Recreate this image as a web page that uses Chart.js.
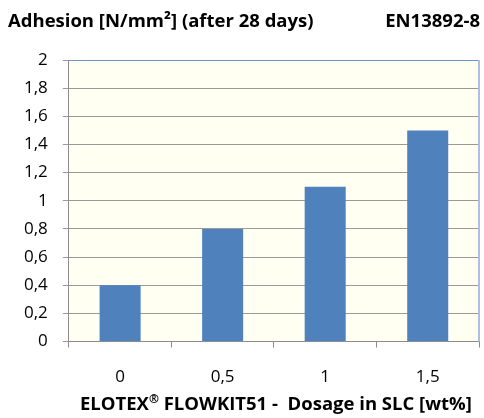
<!DOCTYPE html>
<html>
<head>
<meta charset="utf-8">
<script src="https://cdn.jsdelivr.net/npm/chart.js@4"></script>
<style>
    html, body { margin: 0; padding: 0; background: #ffffff; }
    #wrap { width: 484px; height: 418px; position: relative; }
</style>
</head>
<body>
<div id="wrap"><canvas id="adhesionChart"></canvas></div>
<script>
// chart data
const dosages = ["0", "0,5", "1", "1,5"];
const adhesion = [0.4, 0.8, 1.1, 1.5];
const yTicks = [0, 0.2, 0.4, 0.6, 0.8, 1, 1.2, 1.4, 1.6, 1.8, 2];

const chartTitle = "Adhesion [N/mm\u00B2] (after 28 days)";
const chartNorm = "EN13892-8";
// x title is split so the ® can be raised
const xTitleParts = ["ELOTEX", "\u00AE", " FLOWKIT51 -  Dosage in SLC [wt%]"];

const FONT = "'Open Sans', sans-serif";

// cream plot background, blue frame and the heading texts
const plotFrame = {
    id: "plotFrame",
    beforeDraw(chart) {
        const a = chart.chartArea;
        const ctx = chart.ctx;
        ctx.save();
        ctx.fillStyle = "#fffff2";
        ctx.fillRect(a.left, a.top, a.right - a.left, a.bottom - a.top);
        ctx.restore();
    },
    afterDraw(chart) {
        const a = chart.chartArea;
        const ctx = chart.ctx;
        ctx.save();
        ctx.strokeStyle = "#6f93c6";
        ctx.lineWidth = 1;
        ctx.beginPath();
        ctx.moveTo(a.left, a.top + 0.5);
        ctx.lineTo(a.right, a.top + 0.5);
        ctx.stroke();
        ctx.strokeStyle = "#a9c2e3";
        ctx.lineWidth = 2;
        ctx.beginPath();
        ctx.moveTo(a.right, a.top);
        ctx.lineTo(a.right, a.bottom);
        ctx.stroke();

        ctx.fillStyle = "#000000";
        ctx.font = "bold 18.5px " + FONT;
        ctx.textBaseline = "middle";
        ctx.textAlign = "left";
        ctx.fillText(chartTitle, 8, 22);
        ctx.textAlign = "right";
        ctx.fillText(chartNorm, 480, 22);

        // x axis title
        const big = "bold 18.5px " + FONT;
        const small = "bold 12px " + FONT;
        ctx.font = big;
        const w0 = ctx.measureText(xTitleParts[0]).width;
        const w2 = ctx.measureText(xTitleParts[2]).width;
        ctx.font = small;
        const w1 = ctx.measureText(xTitleParts[1]).width;
        let x = (a.left + a.right) / 2 + 2 - (w0 + w1 + w2) / 2;
        const y = 405;
        ctx.textAlign = "left";
        ctx.font = big;
        ctx.fillText(xTitleParts[0], x, y);
        x += w0;
        ctx.font = small;
        ctx.fillText(xTitleParts[1], x, y - 5);
        x += w1;
        ctx.font = big;
        ctx.fillText(xTitleParts[2], x, y);
        ctx.restore();
    }
};

const ctx = document.getElementById("adhesionChart");

new Chart(ctx, {
    type: "bar",
    data: {
        labels: dosages,
        datasets: [{
            data: adhesion,
            backgroundColor: "#4f81bd",
            borderWidth: 0,
            categoryPercentage: 1,
            barPercentage: 0.4
        }]
    },
    options: {
        responsive: true,
        maintainAspectRatio: false,
        animation: false,
        layout: {
            padding: { top: 60, left: 9, right: 5, bottom: 12 }
        },
        plugins: {
            legend: { display: false },
            tooltip: { enabled: false }
        },
        scales: {
            x: {
                offset: true,
                grid: {
                    offset: true,
                    drawOnChartArea: false,
                    tickLength: 6,
                    color: "#8c8c8c"
                },
                border: { color: "#8c8c8c" },
                ticks: {
                    color: "#000000",
                    font: { family: FONT, size: 17 },
                    padding: 19
                }
            },
            y: {
                min: 0,
                max: 2,
                afterBuildTicks(axis) {
                    axis.ticks = yTicks.map(v => ({ value: v }));
                },
                grid: {
                    color: "#9a9a9a",
                    tickLength: 6
                },
                border: { color: "#8c8c8c" },
                ticks: {
                    color: "#000000",
                    font: { family: FONT, size: 17 },
                    padding: 15,
                    callback: v => String(Math.round(v * 10) / 10).replace(".", ",")
                }
            }
        }
    },
    plugins: [plotFrame]
});
</script>
</body>
</html>
